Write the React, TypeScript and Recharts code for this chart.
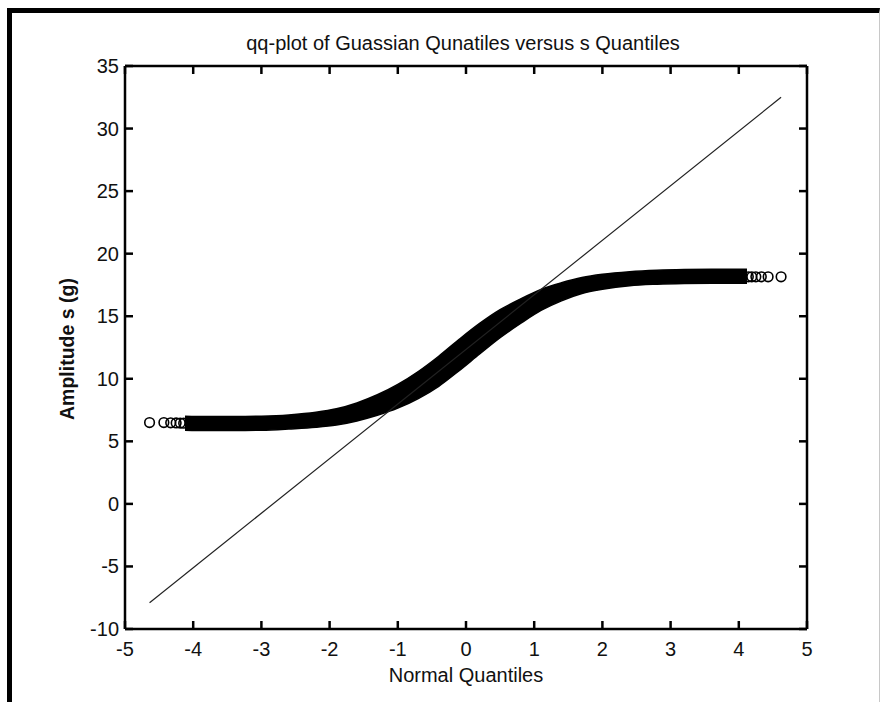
import { ComposedChart, Area, Line, Scatter, XAxis, YAxis } from 'recharts';

// normal quantiles (x) and the sorted s values (band edges)
const bandX = [-4.12, -3.8, -3.4, -3.0, -2.6, -2.2, -1.9, -1.6, -1.3, -1.0, -0.7, -0.4, -0.1, 0.2, 0.5, 0.8, 1.1, 1.4, 1.7, 2.0, 2.4, 2.8, 3.2, 3.6, 4.0, 4.12];
const bandLow = [5.89, 5.86, 5.86, 5.89, 5.99, 6.12, 6.3, 6.63, 7.08, 7.65, 8.42, 9.4, 10.65, 11.98, 13.28, 14.42, 15.46, 16.23, 16.81, 17.15, 17.44, 17.56, 17.62, 17.64, 17.64, 17.64];
const bandHigh = [7.01, 6.98, 6.98, 7.01, 7.11, 7.32, 7.6, 8.07, 8.72, 9.55, 10.58, 11.8, 13.15, 14.42, 15.52, 16.38, 17.14, 17.67, 18.09, 18.35, 18.56, 18.68, 18.74, 18.76, 18.76, 18.76];

// sparse tail points, drawn as single circles
const tailX = [-4.64, -4.43, -4.33, -4.25, -4.19, -4.14, 4.14, 4.19, 4.25, 4.33, 4.43, 4.62];
const tailY = [6.5, 6.5, 6.48, 6.47, 6.46, 6.45, 18.15, 18.15, 18.15, 18.15, 18.15, 18.15];

// reference line through the quartiles
const refX = [-4.64, 4.62];
const refY = [-7.9, 32.5];

const xTicks = [-5, -4, -3, -2, -1, 0, 1, 2, 3, 4, 5];
const yTicks = [-10, -5, 0, 5, 10, 15, 20, 25, 30, 35];

const bandData = bandX.map((x, i) => ({ x, band: [bandLow[i], bandHigh[i]] }));
const tailData = tailX.map((x, i) => ({ x, y: tailY[i] }));
const refData = refX.map((x, i) => ({ x, y: refY[i] }));

const FONT = 'Arial, "Liberation Sans", sans-serif';
const TICK = 8;

const BottomTick = ({ x, y, payload }: any) => (
  <g>
    <line x1={x} y1={y} x2={x} y2={y - TICK} stroke="#000" strokeWidth={2.5} />
    <text x={x} y={y + 27} textAnchor="middle" fontSize={20} fontFamily={FONT} fill="#111">
      {payload.value}
    </text>
  </g>
);

const TopTick = ({ x, y }: any) => (
  <line x1={x} y1={y} x2={x} y2={y + TICK} stroke="#000" strokeWidth={2.5} />
);

const LeftTick = ({ x, y, payload }: any) => (
  <g>
    <line x1={x} y1={y} x2={x + TICK} y2={y} stroke="#000" strokeWidth={2.5} />
    <text x={x - 6} y={y + 7} textAnchor="end" fontSize={20} fontFamily={FONT} fill="#111">
      {payload.value}
    </text>
  </g>
);

const RightTick = ({ x, y }: any) => (
  <line x1={x} y1={y} x2={x - TICK} y2={y} stroke="#000" strokeWidth={2.5} />
);

const Ring = ({ cx, cy }: any) => (
  <circle cx={cx} cy={cy} r={4.8} fill="none" stroke="#000" strokeWidth={1.6} />
);

export default function App() {
  return (
    <div style={{ position: 'absolute', left: 0, top: 0, width: 881, height: 702, background: '#fff' }}>
      <div
        style={{
          position: 'absolute', left: 7, top: 8, width: 873, height: 694, boxSizing: 'border-box',
          borderTop: '5px solid #000', borderLeft: '5px solid #000', borderRight: '1px solid #c8c8c8',
        }}
      />
      <div style={{ position: 'absolute', left: 0, top: 0 }}>
        <ComposedChart width={881} height={702} data={bandData} margin={{ top: 65, right: 73, bottom: 72, left: 124 }}>
          <XAxis xAxisId={0} type="number" dataKey="x" domain={[-5, 5]} ticks={xTicks} allowDataOverflow
            height={1} tickSize={0} tickMargin={0} tickLine={false} tick={<BottomTick />} interval={0}
            axisLine={{ stroke: '#000', strokeWidth: 2.5 }} />
          <XAxis xAxisId="top" orientation="top" type="number" dataKey="x" domain={[-5, 5]} ticks={xTicks} allowDataOverflow
            height={1} tickSize={0} tickMargin={0} tickLine={false} tick={<TopTick />} interval={0}
            axisLine={{ stroke: '#000', strokeWidth: 2.5 }} />
          <YAxis yAxisId={0} type="number" domain={[-10, 35]} ticks={yTicks} allowDataOverflow
            width={1} tickSize={0} tickMargin={0} tickLine={false} tick={<LeftTick />} interval={0}
            axisLine={{ stroke: '#000', strokeWidth: 2.5 }} />
          <YAxis yAxisId="right" orientation="right" type="number" domain={[-10, 35]} ticks={yTicks} allowDataOverflow
            width={1} tickSize={0} tickMargin={0} tickLine={false} tick={<RightTick />} interval={0}
            axisLine={{ stroke: '#000', strokeWidth: 2.5 }} />
          <Area dataKey="band" type="monotone" fill="#000" fillOpacity={1} stroke="#000" strokeWidth={1.5} isAnimationActive={false} />
          <Scatter data={tailData} dataKey="y" shape={<Ring />} isAnimationActive={false} />
          <Line data={refData} dataKey="y" stroke="#222" strokeWidth={1.2} dot={false} isAnimationActive={false} />
        </ComposedChart>
      </div>
      <svg width={881} height={702} style={{ position: 'absolute', left: 0, top: 0, pointerEvents: 'none' }}>
        <text x={463} y={50} textAnchor="middle" fontSize={20} fontFamily={FONT} fill="#111">
          qq-plot of Guassian Qunatiles versus s Quantiles
        </text>
        <text x={466} y={682} textAnchor="middle" fontSize={20} fontFamily={FONT} fill="#111">
          Normal Quantiles
        </text>
        <text x={74} y={349} transform="rotate(-90 74 349)" textAnchor="middle" fontSize={19.5} fontWeight="bold" fontFamily={FONT} fill="#111">
          Amplitude s (g)
        </text>
      </svg>
    </div>
  );
}
